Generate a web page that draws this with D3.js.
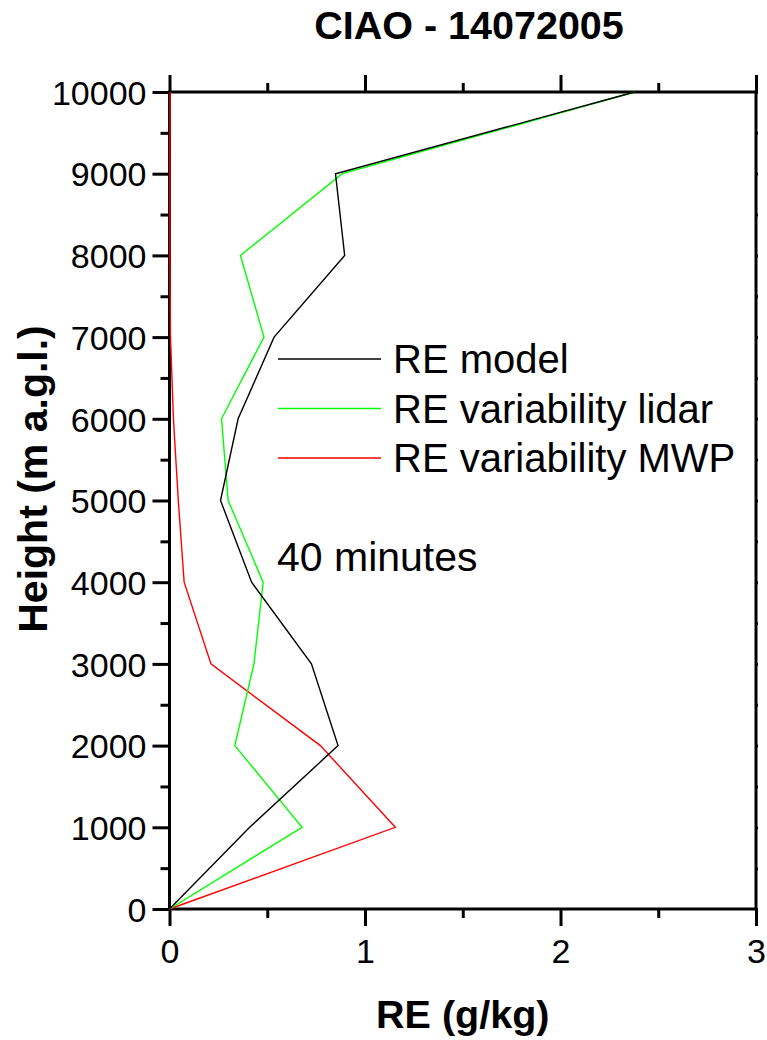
<!DOCTYPE html>
<html><head><meta charset="utf-8">
<script src="https://cdn.jsdelivr.net/npm/d3@7"></script>
<style>
body{margin:0;background:#fff;}
text{font-family:"Liberation Sans",Arial,sans-serif;}
</style></head>
<body>
<svg id="c" width="767" height="1040"></svg>
<script>
const heights = [0,1000,2000,3000,4000,5000,6000,7000,8000,9000,10000];
const reModel = [0,0.41,0.862,0.726,0.42,0.261,0.351,0.535,0.896,0.849,2.38];
const reLidar = [0,0.678,0.334,0.432,0.479,0.30,0.266,0.483,0.363,0.884,2.38];
const reMWP   = [0,1.155,0.772,0.212,0.075,0.045,0.02,0.005,0.002,0.002,0.003];
const seriesNames = ["RE model","RE variability lidar","RE variability MWP"];
const seriesColors = ["#000000","#00ff00","#ff0000"];
const xMajor = [0,1,2,3];
const xMinor = [0.5,1.5,2.5];
const yMajor = [0,1000,2000,3000,4000,5000,6000,7000,8000,9000,10000];
const yMinor = [500,1500,2500,3500,4500,5500,6500,7500,8500,9500];
const titleText = "CIAO - 14072005";
const xTitle = "RE (g/kg)";
const yTitle = "Height (m a.g.l.)";
const note = "40 minutes";

const svg = d3.select("#c");
const L=169.5, R=756, T=92, B=909;
const x = d3.scaleLinear().domain([0,3]).range([L,R]);
const y = d3.scaleLinear().domain([0,10000]).range([B,T]);

function styleAxis(g){
  g.select(".domain").remove();
  g.selectAll(".tick line").attr("stroke","#000").attr("stroke-width",3);
  g.selectAll(".tick text").attr("fill","#000").style("font-size","34px")
   .style("font-family","'Liberation Sans',Arial,sans-serif");
}
// left
svg.append("g").attr("transform",`translate(${L},0)`)
  .call(d3.axisLeft(y).tickValues(yMajor).tickSize(17).tickPadding(6).tickFormat(d3.format("d")))
  .call(styleAxis).selectAll(".tick text").attr("dy","0.36em");
svg.append("g").attr("transform",`translate(${L},0)`)
  .call(d3.axisLeft(y).tickValues(yMinor).tickSize(9).tickFormat("")).call(styleAxis);
// bottom
svg.append("g").attr("transform",`translate(0,${B})`)
  .call(d3.axisBottom(x).tickValues(xMajor).tickSize(17).tickPadding(13).tickFormat(d3.format("d")))
  .call(styleAxis).selectAll(".tick text").attr("dy","0.71em");
svg.append("g").attr("transform",`translate(0,${B})`)
  .call(d3.axisBottom(x).tickValues(xMinor).tickSize(9).tickFormat("")).call(styleAxis);
// top
svg.append("g").attr("transform",`translate(0,${T})`)
  .call(d3.axisTop(x).tickValues(xMajor).tickSize(17).tickFormat("")).call(styleAxis);
svg.append("g").attr("transform",`translate(0,${T})`)
  .call(d3.axisTop(x).tickValues(xMinor).tickSize(9).tickFormat("")).call(styleAxis);
// right (tiny ticks)
svg.append("g").attr("transform",`translate(${R},0)`)
  .call(d3.axisRight(y).tickValues(yMajor.concat(yMinor)).tickSize(2).tickFormat("")).call(styleAxis);

// frame
svg.append("rect").attr("x",L).attr("y",T).attr("width",R-L).attr("height",B-T)
  .attr("fill","none").attr("stroke","#000").attr("stroke-width",3);

// lines
const series = [reMWP, reLidar, reModel];
const cols = [seriesColors[2], seriesColors[1], seriesColors[0]];
const line = d3.line().x(d=>x(d[0])).y(d=>y(d[1]));
series.forEach((s,i)=>{
  svg.append("path").datum(s.map((v,j)=>[v,heights[j]]))
    .attr("d",line).attr("fill","none").attr("stroke",cols[i]).attr("stroke-width",1.4);
});

// legend
const legY = [359,408.5,458];
seriesNames.forEach((n,i)=>{
  svg.append("line").attr("x1",278).attr("x2",381).attr("y1",legY[i]).attr("y2",legY[i])
    .attr("stroke",seriesColors[i]).attr("stroke-width",1.4);
  svg.append("text").attr("x",393).attr("y",legY[i]+14).style("font-size","40px").attr("fill","#000").text(n);
});
svg.append("text").attr("x",277).attr("y",571).style("font-size","41px").attr("fill","#000").text(note);

// titles
svg.append("text").attr("x",469).attr("y",39).attr("text-anchor","middle")
  .style("font-size","39.5px").style("font-weight","bold").text(titleText);
svg.append("text").attr("x",(L+R)/2).attr("y",1028).attr("text-anchor","middle")
  .style("font-size","39.5px").style("font-weight","bold").text(xTitle);
svg.append("text").attr("transform","translate(47,479) rotate(-90)").attr("text-anchor","middle")
  .style("font-size","41px").style("font-weight","bold").text(yTitle);
</script>
</body></html>
